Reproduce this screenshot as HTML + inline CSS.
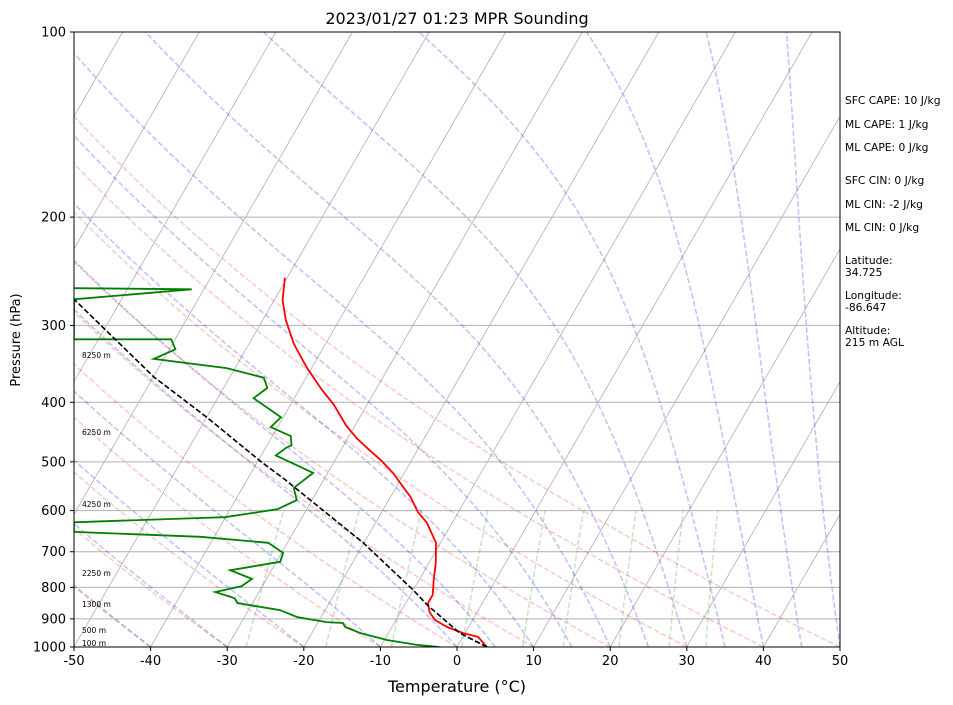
<!DOCTYPE html>
<html><head><meta charset="utf-8">
<style>
body{margin:0;background:#fff;}
svg{display:block;font-family:"DejaVu Sans","Liberation Sans",sans-serif;}
</style></head>
<body>
<svg id="chart" width="953" height="705" viewBox="0 0 953 705" xmlns="http://www.w3.org/2000/svg">
<defs><clipPath id="plotclip"><rect x="74" y="32" width="766" height="615"/></clipPath></defs>
<rect width="953" height="705" fill="#fff"/>
<g id="bg" clip-path="url(#plotclip)"></g>
<g id="series" clip-path="url(#plotclip)"></g>
<g id="axes"></g>
<text x="457" y="24" text-anchor="middle" font-size="16">2023/01/27 01:23 MPR Sounding</text>
<text x="457" y="692" text-anchor="middle" font-size="16">Temperature (°C)</text>
<text transform="translate(20,340) rotate(-90)" text-anchor="middle" font-size="13">Pressure (hPa)</text>
<g font-size="10.7">
<text x="845" y="104">SFC CAPE: 10 J/kg</text>
<text x="845" y="128">ML CAPE: 1 J/kg</text>
<text x="845" y="151">ML CAPE: 0 J/kg</text>
<text x="845" y="184">SFC CIN: 0 J/kg</text>
<text x="845" y="208">ML CIN: -2 J/kg</text>
<text x="845" y="231">ML CIN: 0 J/kg</text>
<text x="845" y="264">Latitude:</text>
<text x="845" y="276">34.725</text>
<text x="845" y="299">Longitude:</text>
<text x="845" y="311">-86.647</text>
<text x="845" y="334">Altitude:</text>
<text x="845" y="346">215 m AGL</text>
</g>
</svg>
<script>
const tempP=[1000,963,949,928,904,878,848,823,778,730,677,628,603,570,535,521,497,479,458,436,404,382,351,321,294,273,251];
const tempT=[3.9,2.0,-0.3,-2.8,-4.9,-6.2,-7.1,-7.1,-8.1,-9.1,-10.6,-13.3,-15.3,-17.4,-20.3,-21.5,-24.0,-26.2,-28.8,-31.2,-34.3,-37.0,-40.7,-44.2,-47.0,-48.9,-50.3];
const dewP=[1000,992,974,949,928,914,911,894,871,848,833,814,796,775,750,727,703,677,662,650,627,617,615,597,577,551,521,488,474,470,454,439,423,394,379,365,352,340,328,316,316,272,262,261];
const dewT=[-2.3,-5.4,-9.7,-13.7,-16.1,-16.7,-18.9,-23.1,-25.9,-32.0,-32.7,-35.7,-32.7,-31.9,-35.4,-29.5,-29.8,-32.5,-41.8,-58.7,-59.4,-43.3,-40.1,-33.8,-32.0,-33.3,-31.9,-38.1,-37.3,-36.8,-37.6,-40.9,-40.3,-45.3,-44.3,-45.5,-51.1,-61.3,-59.2,-60.5,-73.2,-76.2,-61.6,-77.1];
const parcelP=[1000,949,855,808,677,535,500,423,364,272];
const parcelT=[3.9,-0.7,-7.0,-10.0,-20.1,-35.0,-39.5,-50.0,-59.9,-76.2];
const xTicks=[-50,-40,-30,-20,-10,0,10,20,30,40,50];
const pTicks=[100,200,300,400,500,600,700,800,900,1000];
const heightLabels=["8250 m","6250 m","4250 m","2250 m","1300 m","500 m","100 m"];
const heightP=[335,447,585,758,851,938,985];
const mixRatios=[0.0004,0.001,0.002,0.004,0.007,0.01,0.016,0.024,0.032];

const NS="http://www.w3.org/2000/svg";
const X0=74,X1=840,Y0=32,Y1=647,TMIN=-50,TMAX=50,SK=Math.tan(Math.PI/6);
function yOf(p){return Y1-Math.log10(1000/p)*(Y1-Y0);}
function xOf(T,p){return X0+(T-TMIN)*(X1-X0)/(TMAX-TMIN)+(Y1-yOf(p))*SK;}
function mk(tag,attrs,parent){const e=document.createElementNS(NS,tag);for(const k in attrs)e.setAttribute(k,attrs[k]);parent.appendChild(e);return e;}
function pathD(ps,ts){return ps.map((p,i)=>(i?'L':'M')+xOf(ts[i],p).toFixed(1)+','+yOf(p).toFixed(1)).join(' ');}
const bg=document.getElementById('bg'),ser=document.getElementById('series'),ax=document.getElementById('axes');

for(const p of pTicks){const l=mk('line',{x1:X0,x2:X1,y1:yOf(p),y2:yOf(p),stroke:'#b0b0b0','stroke-width':1},bg);

}
for(let T=-150;T<=50;T+=10){const l=mk('line',{x1:xOf(T,1000),y1:yOf(1000),x2:xOf(T,100),y2:yOf(100),stroke:'#b0b0b0','stroke-width':0.8},bg);

}
const levels=[];for(let i=0;i<=60;i++)levels.push(1000*Math.pow(10,-i/60));
for(let t0=-50;t0<=50;t0+=10){const th=t0+273.15;const ts=levels.map(p=>th*Math.pow(p/1000,0.2857)-273.15);
const e=mk('path',{d:pathD(levels,ts),fill:'none',stroke:'rgba(255,0,0,0.22)','stroke-width':1.5,'stroke-dasharray':'5.5,2.4'},bg);

}
function esat(Tc){return 6.112*Math.exp(17.67*Tc/(Tc+243.5));}
function moist(t0){const ps=[],ts=[];let T=t0+273.15,p=1000;const n=300,f=Math.pow(0.1,1/n);
for(let i=0;i<=n;i++){ps.push(p);ts.push(T-273.15);const es=esat(T-273.15);const rs=0.622*es/(p-es);
const dTdp=(287*T+2.501e6*rs)/(p*(1005+2.501e6*2.501e6*rs*0.622/(287*T*T)));const pn=p*f;T+=dTdp*(pn-p);p=pn;}return [ps,ts];}
const mt=[-50,-40,-30,-20,-10,0,5,10,15,20,25,30,35,40,45,50];
for(const t0 of mt){const [ps,ts]=moist(t0);const e=mk('path',{d:pathD(ps,ts),fill:'none',stroke:'rgba(0,0,255,0.24)','stroke-width':1.6,'stroke-dasharray':'5.5,2.4'},bg);

}
const mp=[];for(let i=0;i<=10;i++)mp.push(1000-40*i);
for(const w of mixRatios){const ts=mp.map(p=>{const e=p*w/(0.622+w);const l=Math.log(e/6.112);return 243.5*l/(17.67-l);});
const e=mk('path',{d:pathD(mp,ts),fill:'none',stroke:'rgba(0,128,0,0.22)','stroke-width':1.5,'stroke-dasharray':'5.5,2.4'},bg);

}

const tl=mk('path',{d:pathD(tempP,tempT),fill:'none',stroke:'#ff0000','stroke-width':1.8},ser);


const dl=mk('path',{d:pathD(dewP,dewT),fill:'none',stroke:'#008000','stroke-width':1.8},ser);


const pl=mk('path',{d:pathD(parcelP,parcelT),fill:'none',stroke:'#000','stroke-width':1.6,'stroke-dasharray':'5.5,2.4'},ser);


heightLabels.forEach((h,i)=>{const t=mk('text',{x:82,y:yOf(heightP[i])+3,'font-size':7.5},ser);t.textContent=h;

});

const fr=mk('rect',{x:X0,y:Y0,width:X1-X0,height:Y1-Y0,fill:'none',stroke:'#000','stroke-width':1},ax);


for(const T of xTicks){const x=X0+(T-TMIN)*(X1-X0)/(TMAX-TMIN);mk('line',{x1:x,x2:x,y1:Y1,y2:Y1+4,stroke:'#000'},ax);
const t=mk('text',{x:x,y:Y1+18,'text-anchor':'middle','font-size':13},ax);t.textContent=T;

}
for(const p of pTicks){const y=yOf(p);mk('line',{x1:X0-4,x2:X0,y1:y,y2:y,stroke:'#000'},ax);
const t=mk('text',{x:X0-8,y:y+4.5,'text-anchor':'end','font-size':13},ax);t.textContent=p;

}
</script>
</body></html>
